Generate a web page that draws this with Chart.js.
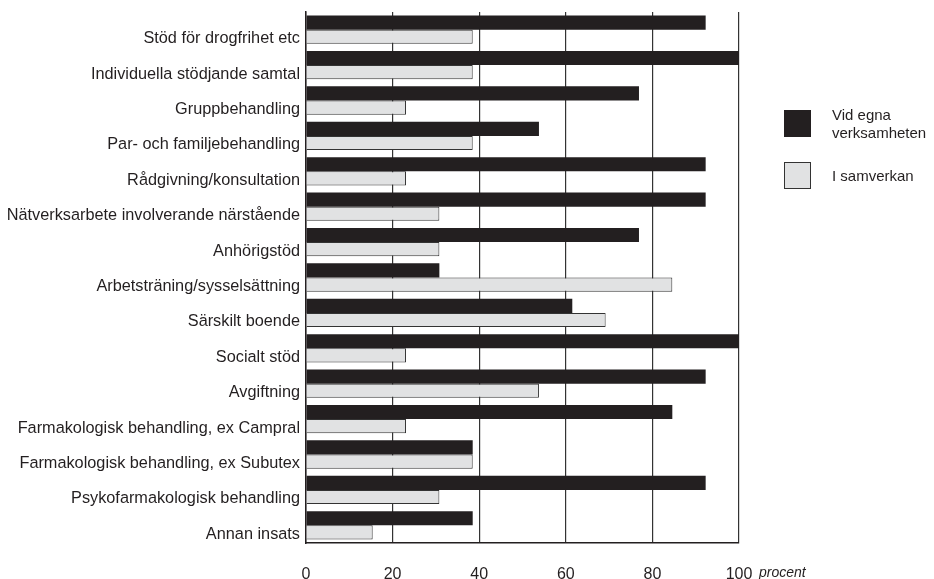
<!DOCTYPE html>
<html>
<head>
<meta charset="utf-8">
<script src="https://cdn.jsdelivr.net/npm/chart.js@4"></script>
<style>
  body { margin: 0; background: #fff; font-family: 'Liberation Sans', Arial, sans-serif; color: #231f20; }
  #wrap { position: relative; width: 934px; height: 579px; }
  .sq { position: absolute; left: 784px; width: 27px; height: 27px; box-sizing: border-box; }
  .lg { position: absolute; left: 832px; font-size: 15px; line-height: 18px; }
  #unit { position: absolute; left: 759px; top: 564px; font-size: 14px; font-style: italic; }
</style>
</head>
<body>
<div id="wrap">
  <canvas id="chart" width="934" height="579"></canvas>
  <div class="sq" style="top:110px;background:#231f20;"></div>
  <div class="lg" style="top:106px;">Vid egna<br>verksamheten</div>
  <div class="sq" style="top:162px;background:#e1e2e3;border:1px solid #333;"></div>
  <div class="lg" style="top:167px;">I samverkan</div>
  <div id="unit">procent</div>
</div>
<script>
// Insatser, andel i procent
const categories = [
  'Stöd för drogfrihet etc',
  'Individuella stödjande samtal',
  'Gruppbehandling',
  'Par- och familjebehandling',
  'Rådgivning/konsultation',
  'Nätverksarbete involverande närstående',
  'Anhörigstöd',
  'Arbetsträning/sysselsättning',
  'Särskilt boende',
  'Socialt stöd',
  'Avgiftning',
  'Farmakologisk behandling, ex Campral',
  'Farmakologisk behandling, ex Subutex',
  'Psykofarmakologisk behandling',
  'Annan insats'
];
const egnaVerksamheten = [92.3, 100, 76.9, 53.8, 92.3, 92.3, 76.9, 30.8, 61.5, 100, 92.3, 84.6, 38.5, 92.3, 38.5];
const iSamverkan = [38.5, 38.5, 23.1, 38.5, 23.1, 30.8, 30.8, 84.6, 69.2, 23.1, 53.8, 23.1, 38.5, 30.8, 15.4];
const xTicks = [0, 20, 40, 60, 80, 100];

Chart.defaults.font.family = "'Liberation Sans', Arial, sans-serif";
Chart.defaults.color = '#231f20';

const chart = new Chart(document.getElementById('chart'), {
  type: 'bar',
  data: {
    labels: categories,
    datasets: [{
      label: 'Vid egna verksamheten',
      data: egnaVerksamheten,
      backgroundColor: '#231f20',
      borderWidth: 0
    }, {
      label: 'I samverkan',
      data: iSamverkan,
      backgroundColor: '#e1e2e3',
      borderColor: '#333',
      borderWidth: 1
    }]
  },
  options: {
    indexAxis: 'y',
    responsive: false,
    animation: false,
    layout: { padding: { top: 12, right: 195, left: 0, bottom: 0 } },
    datasets: { bar: { categoryPercentage: 0.8, barPercentage: 1 } },
    plugins: {
      legend: { display: false },
      tooltip: { enabled: false }
    },
    scales: {
      x: {
        min: 0,
        max: 100,
        afterBuildTicks: (scale) => { scale.ticks = xTicks.map(v => ({ value: v })); },
        afterFit: (scale) => { scale.height = 36; scale.paddingRight = 0; },
        ticks: { font: { size: 16 }, padding: 22, color: '#231f20' },
        grid: { color: '#333', lineWidth: 1.2, drawTicks: false },
        border: { display: true, color: '#231f20', width: 1.5 }
      },
      y: {
        afterFit: (scale) => { scale.width = 306; scale.paddingTop = 0; scale.paddingBottom = 0; },
        ticks: { font: { size: 16.3 }, padding: 6, labelOffset: 9, color: '#231f20' },
        grid: { display: false, drawTicks: false },
        border: { display: true, color: '#231f20', width: 1.5 }
      }
    }
  }
});
</script>
</body>
</html>
